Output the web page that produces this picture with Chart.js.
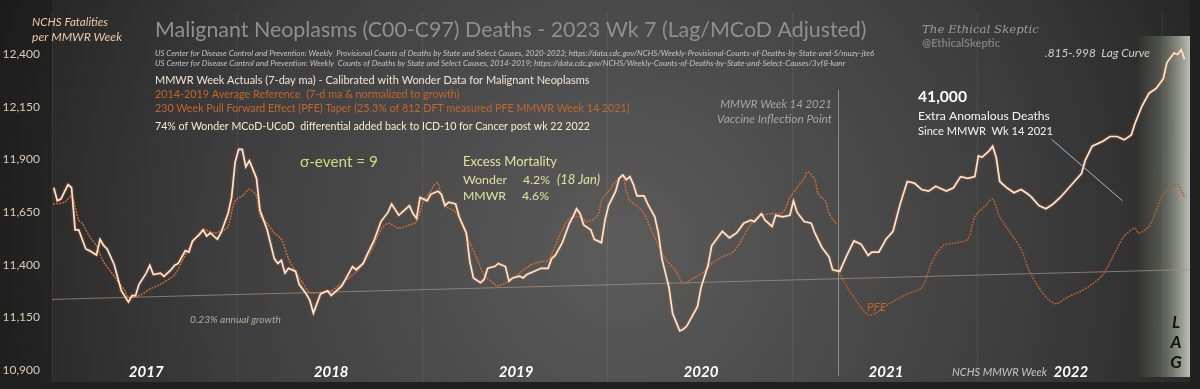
<!DOCTYPE html>
<html lang="en">
<head>
    <meta charset="UTF-8">
    <title>Malignant Neoplasms Deaths - 2023 Wk 7</title>
    <script src="https://cdn.jsdelivr.net/npm/chart.js"></script>
    <style>
        body {
            margin: 0;
            background: #222;
        }
        .box {
            width: 1200px;
            height: 389px;
        }
    </style>
</head>
<body>
    <div class="box">
        <canvas id="cancerChart" width="1200" height="389"></canvas>
    </div>

    <script>
        // week index 0 = MMWR week 1 of 2017
        const yearLabels = ['2017', '2018', '2019', '2020', '2021', '2022'];
        const yearStartWeeks = [0, 52, 104, 156, 208, 260];
        const yTicks = [10900, 11150, 11400, 11650, 11900, 12150, 12400];
        const vaccineWeek = 221;

        // MMWR week actuals (7-day ma)
        const actualWeeks = [0, 1, 2, 4, 5, 6, 7, 9, 10, 12, 13, 14, 15, 17, 18, 19, 21, 22, 23, 24, 26, 27, 28, 30, 31, 33, 34, 35, 37, 38, 39, 41, 42, 43, 44, 46, 47, 49, 50, 51, 52, 53, 54, 55, 57, 58, 59, 60, 62, 63, 64, 65, 66, 68, 69, 71, 72, 73, 74, 75, 77, 78, 80, 81, 82, 84, 85, 87, 88, 90, 92, 94, 95, 97, 99, 100, 101, 102, 103, 105, 106, 108, 109, 110, 111, 113, 114, 116, 117, 118, 120, 121, 122, 124, 125, 127, 128, 129, 131, 132, 133, 135, 137, 139, 140, 141, 143, 145, 146, 147, 148, 149, 151, 152, 154, 155, 156, 158, 159, 160, 161, 162, 163, 164, 166, 167, 169, 170, 171, 173, 174, 176, 177, 178, 179, 181, 182, 184, 185, 188, 190, 192, 193, 194, 196, 197, 199, 200, 202, 203, 205, 207, 208, 209, 211, 213, 214, 216, 218, 219, 221, 223, 225, 227, 229, 230, 232, 234, 236, 238, 240, 242, 244, 246, 248, 250, 251, 253, 255, 257, 259, 260, 261, 263, 264, 265, 266, 268, 270, 272, 274, 275, 277, 279, 281, 283, 285, 287, 289, 290, 292, 295, 297, 299, 301, 303, 304, 306, 308, 310, 312, 313, 315, 316, 317, 318];
        const actualDeaths = [11766, 11704, 11712, 11781, 11766, 11566, 11566, 11475, 11467, 11446, 11521, 11492, 11475, 11400, 11337, 11276, 11222, 11253, 11253, 11308, 11360, 11398, 11353, 11360, 11345, 11376, 11398, 11406, 11467, 11460, 11513, 11544, 11566, 11536, 11551, 11521, 11551, 11643, 11720, 11888, 11949, 11949, 11865, 11895, 11811, 11658, 11612, 11566, 11429, 11406, 11421, 11360, 11383, 11368, 11307, 11261, 11230, 11169, 11215, 11261, 11276, 11253, 11284, 11299, 11330, 11391, 11376, 11406, 11444, 11513, 11605, 11650, 11689, 11635, 11666, 11681, 11643, 11620, 11720, 11704, 11735, 11750, 11735, 11681, 11697, 11689, 11628, 11551, 11414, 11337, 11314, 11330, 11383, 11391, 11406, 11391, 11322, 11337, 11345, 11337, 11353, 11368, 11383, 11383, 11429, 11444, 11505, 11597, 11628, 11666, 11643, 11589, 11566, 11521, 11505, 11612, 11681, 11750, 11811, 11827, 11804, 11819, 11781, 11727, 11727, 11689, 11628, 11551, 11429, 11291, 11169, 11085, 11093, 11108, 11139, 11200, 11291, 11398, 11490, 11559, 11528, 11551, 11574, 11597, 11612, 11605, 11643, 11612, 11582, 11635, 11628, 11635, 11704, 11650, 11605, 11597, 11551, 11482, 11437, 11376, 11368, 11444, 11513, 11498, 11444, 11460, 11460, 11521, 11559, 11689, 11796, 11788, 11758, 11750, 11773, 11758, 11750, 11766, 11819, 11811, 11819, 11918, 11911, 11941, 11964, 11911, 11796, 11766, 11742, 11758, 11735, 11720, 11681, 11666, 11689, 11720, 11758, 11796, 11834, 11895, 11964, 11987, 12010, 12010, 11994, 12017, 12071, 12155, 12216, 12239, 12285, 12362, 12407, 12400, 12423, 12377];

        // 2014-2019 average reference (7-d ma, normalized to growth)
        const refWeeks = [0, 3, 5, 7, 8, 10, 12, 14, 16, 18, 20, 21, 24, 27, 30, 34, 36, 39, 42, 45, 48, 49, 51, 53, 55, 57, 58, 60, 62, 64, 66, 68, 70, 72, 75, 78, 80, 83, 86, 89, 92, 94, 97, 100, 102, 104, 106, 107, 108, 109, 110, 113, 115, 117, 119, 121, 124, 125, 128, 131, 134, 137, 139, 141, 143, 145, 148, 150, 153, 154, 156, 158, 160, 161, 162, 164, 166, 168, 170, 172, 175, 177, 180, 183, 185, 188, 191, 193, 195, 197, 199, 202, 205, 207, 209, 211, 212, 214, 215, 217, 218, 220];
        const refDeaths = [11689, 11697, 11727, 11612, 11597, 11536, 11490, 11414, 11368, 11322, 11276, 11245, 11253, 11284, 11307, 11353, 11414, 11505, 11566, 11551, 11566, 11582, 11704, 11727, 11758, 11727, 11635, 11597, 11551, 11521, 11429, 11368, 11314, 11268, 11268, 11276, 11299, 11337, 11383, 11460, 11566, 11597, 11574, 11589, 11605, 11704, 11750, 11780, 11788, 11727, 11680, 11651, 11582, 11505, 11429, 11353, 11307, 11299, 11322, 11360, 11398, 11414, 11421, 11490, 11566, 11620, 11628, 11605, 11635, 11704, 11750, 11796, 11819, 11750, 11704, 11681, 11643, 11566, 11490, 11429, 11368, 11314, 11337, 11368, 11406, 11437, 11460, 11505, 11566, 11612, 11635, 11643, 11650, 11720, 11766, 11811, 11842, 11804, 11735, 11704, 11643, 11597];

        // 230 week pull forward effect taper
        const pfeWeeks = [221, 225, 229, 231, 235, 240, 244, 247, 250, 254, 257, 259, 262, 264, 266, 269, 272, 274, 277, 280, 282, 285, 289, 292, 295, 298, 301, 304, 305, 308, 310, 312, 316, 318];
        const pfeDeaths = [11354, 11244, 11161, 11169, 11215, 11261, 11291, 11414, 11490, 11505, 11521, 11628, 11681, 11712, 11628, 11551, 11475, 11383, 11291, 11230, 11215, 11245, 11276, 11307, 11353, 11444, 11536, 11574, 11551, 11582, 11658, 11735, 11781, 11720];

        // 0.23% annual growth trend
        const trendWeeks = [-0.5, 319.5];
        const trendDeaths = [11235, 11377];

        function pairs(xs, ys) {
            return xs.map(function (x, i) { return { x: x, y: ys[i] }; });
        }

        // draws text stretched/shrunk to a target width
        function fitText(ctx, text, x, y, width, style, family, color) {
            ctx.font = style + ' 20px ' + family;
            var w = ctx.measureText(text).width;
            var size = 20 * width / w;
            ctx.font = style + ' ' + size.toFixed(2) + 'px ' + family;
            ctx.fillStyle = color;
            ctx.fillText(text, x, y);
        }

        const backdrop = {
            id: 'backdrop',
            beforeDraw: function (chart) {
                var ctx = chart.ctx;
                var w = chart.width, h = chart.height;
                ctx.save();
                var g = ctx.createRadialGradient(620, 250, 20, 620, 250, 700);
                g.addColorStop(0, '#5a5a5a');
                g.addColorStop(0.55, '#3e3e3e');
                g.addColorStop(1, '#1f1f1f');
                ctx.fillStyle = g;
                ctx.fillRect(0, 0, w, h);
                ctx.fillStyle = 'rgba(0,0,0,0.18)';
                ctx.fillRect(0, 0, 52, h);
                ctx.fillStyle = '#202020';
                ctx.fillRect(0, 382, w, h - 382);
                ctx.fillRect(1190, 0, w - 1190, h);

                // faint year gridlines
                var xs = chart.scales.x;
                ctx.strokeStyle = 'rgba(255,255,255,0.07)';
                ctx.lineWidth = 1;
                yearStartWeeks.concat([312]).forEach(function (wk) {
                    var px = Math.round(xs.getPixelForValue(wk - 0.5)) + 0.5;
                    ctx.beginPath();
                    ctx.moveTo(px, 12);
                    ctx.lineTo(px, 382);
                    ctx.stroke();
                });

                // LAG panel
                var lx = xs.getPixelForValue(311.5);
                var pg = ctx.createLinearGradient(lx - 25, 0, chart.chartArea.right, 0);
                pg.addColorStop(0, 'rgba(160,166,150,0)');
                pg.addColorStop(0.45, 'rgba(150,156,142,0.35)');
                pg.addColorStop(1, 'rgba(196,200,186,0.95)');
                ctx.fillStyle = pg;
                ctx.fillRect(lx - 25, 36, chart.chartArea.right - lx + 25, 341);
                ctx.restore();
            }
        };

        const glow = {
            id: 'glow',
            beforeDatasetDraw: function (chart, args) {
                if (args.index === 0) {
                    chart.ctx.save();
                    chart.ctx.shadowColor = 'rgba(215,115,50,0.7)';
                    chart.ctx.shadowBlur = 2.5;
                }
            },
            afterDatasetDraw: function (chart, args) {
                if (args.index === 0) {
                    chart.ctx.restore();
                }
            }
        };

        const notes = {
            id: 'notes',
            afterDatasetsDraw: function (chart) {
                var ctx = chart.ctx;
                var xs = chart.scales.x, ys = chart.scales.y;
                var sans = 'Lato, "Open Sans", sans-serif';
                ctx.save();
                ctx.textBaseline = 'alphabetic';
                ctx.textAlign = 'left';

                // vaccine inflection line
                var vx = Math.round(xs.getPixelForValue(vaccineWeek - 0.5)) + 0.5;
                ctx.strokeStyle = 'rgba(200,200,200,0.55)';
                ctx.lineWidth = 1;
                ctx.beginPath();
                ctx.moveTo(vx, 90);
                ctx.lineTo(vx, 376);
                ctx.stroke();

                // pointer from the 41,000 note
                ctx.strokeStyle = '#a9b9c2';
                ctx.beginPath();
                ctx.moveTo(xs.getPixelForValue(280.6), ys.getPixelForValue(11996));
                ctx.lineTo(xs.getPixelForValue(300.5), ys.getPixelForValue(11704));
                ctx.stroke();

                fitText(ctx, 'NCHS Fatalities', 32, 26, 76, 'italic', sans, '#efcba6');
                fitText(ctx, 'per MMWR Week', 32, 41, 90, 'italic', sans, '#efcba6');
                fitText(ctx, 'Malignant Neoplasms (C00-C97) Deaths - 2023 Wk 7 (Lag/MCoD Adjusted)', 155, 37, 712, '', sans, '#8f8f8f');
                fitText(ctx, 'US Center for Disease Control and Prevention: Weekly  Provisional Counts of Deaths by State and Select Causes, 2020-2023; https://data.cdc.gov/NCHS/Weekly-Provisional-Counts-of-Deaths-by-State-and-S/muzy-jte6', 155, 56, 720, 'italic', sans, '#c4c4c4');
                fitText(ctx, 'US Center for Disease Control and Prevention: Weekly  Counts of Deaths by State and Select Causes, 2014-2019; https://data.cdc.gov/NCHS/Weekly-Counts-of-Deaths-by-State-and-Select-Causes/3yf8-kanr', 155, 66, 691, 'italic', sans, '#c4c4c4');
                fitText(ctx, 'MMWR Week Actuals (7-day ma) - Calibrated with Wonder Data for Malignant Neoplasms', 155, 84, 435, '', sans, '#f3e3d3');
                fitText(ctx, '2014-2019 Average Reference  (7-d ma & normalized to growth)', 155, 98, 305, '', sans, '#c3662e');
                fitText(ctx, '230 Week Pull Forward Effect (PFE) Taper (25.3% of 812 DFT measured PFE MMWR Week 14 2021)', 155, 112, 475, '', sans, '#c3662e');
                fitText(ctx, '74% of Wonder MCoD-UCoD  differential added back to ICD-10 for Cancer post wk 22 2022', 155, 130, 435, '', sans, '#f5efcb');

                ctx.textAlign = 'right';
                fitText(ctx, 'MMWR Week 14 2021', 832, 108, 112, 'italic', sans, '#a6a6a6');
                fitText(ctx, 'Vaccine Inflection Point', 832, 123, 115, 'italic', sans, '#a6a6a6');
                ctx.textAlign = 'left';

                fitText(ctx, 'The Ethical Skeptic', 922, 33, 117, 'italic', '"DejaVu Serif", serif', '#9c9c9c');
                fitText(ctx, '@EthicalSkeptic', 922, 47, 78, 'bold', sans, '#7e7e7e');
                fitText(ctx, '.815-.998  Lag Curve', 1045, 57, 105, 'italic', sans, '#d0d0d0');
                fitText(ctx, '41,000', 918, 102, 49, 'bold', sans, '#ffffff');
                fitText(ctx, 'Extra Anomalous Deaths', 918, 120, 132, '', sans, '#f4f4f4');
                fitText(ctx, 'Since MMWR  Wk 14 2021', 918, 135, 135, '', sans, '#f4f4f4');

                fitText(ctx, '\u03c3-event = 9', 300, 167, 78, '', sans, '#d3db7e');
                fitText(ctx, 'Excess Mortality', 463, 166, 94, '', sans, '#e2e29e');
                fitText(ctx, 'Wonder', 463, 184, 44, '', sans, '#e2e29e');
                fitText(ctx, '4.2%', 523, 184, 27, '', sans, '#e2e29e');
                fitText(ctx, '(18 Jan)', 557, 184, 43, 'italic', sans, '#e2e29e');
                fitText(ctx, 'MMWR', 463, 200, 43, '', sans, '#e2e29e');
                fitText(ctx, '4.6%', 522, 200, 27, '', sans, '#e2e29e');

                fitText(ctx, '0.23% annual growth', 190, 323, 91, 'italic', sans, '#b9a999');
                fitText(ctx, 'PFE', 867, 311, 19, 'italic', sans, '#c3622c');
                fitText(ctx, 'NCHS MMWR Week', 952, 376, 95, 'italic', sans, '#c6c6c6');

                // year labels at mid-year
                ctx.textAlign = 'center';
                ctx.font = 'italic bold 15px ' + sans;
                ctx.fillStyle = '#ffffff';
                yearLabels.forEach(function (yr, i) {
                    ctx.fillText(yr, xs.getPixelForValue(yearStartWeeks[i] + 26), 377);
                });

                ctx.font = 'italic bold 17px ' + sans;
                ctx.fillStyle = '#111111';
                ['L', 'A', 'G'].forEach(function (ch, i) {
                    ctx.fillText(ch, 1176, 328 + i * 20);
                });
                ctx.restore();
            }
        };

        var ctxCancer = document.getElementById('cancerChart').getContext('2d');
        var cancerChart = new Chart(ctxCancer, {
            type: 'line',
            data: {
                datasets: [{
                    label: 'MMWR Week Actuals',
                    data: pairs(actualWeeks, actualDeaths),
                    borderColor: '#fbe4d2',
                    borderWidth: 1.7,
                    pointRadius: 0,
                    tension: 0
                }, {
                    label: '2014-2019 Average Reference',
                    data: pairs(refWeeks, refDeaths),
                    borderColor: '#c86a34',
                    borderWidth: 1.7,
                    borderDash: [0.5, 2.6],
                    borderCapStyle: 'round',
                    pointRadius: 0,
                    tension: 0.3
                }, {
                    label: 'PFE',
                    data: pairs(pfeWeeks, pfeDeaths),
                    borderColor: '#b65e2c',
                    borderWidth: 1.7,
                    borderDash: [0.5, 2.6],
                    borderCapStyle: 'round',
                    pointRadius: 0,
                    tension: 0.3
                }, {
                    label: 'Growth trend',
                    data: pairs(trendWeeks, trendDeaths),
                    borderColor: 'rgba(170,150,130,0.7)',
                    borderWidth: 1,
                    pointRadius: 0
                }]
            },
            options: {
                responsive: false,
                devicePixelRatio: 1,
                animation: false,
                layout: {
                    padding: { top: 44, bottom: 7, right: 10, left: 0 }
                },
                plugins: {
                    legend: { display: false },
                    tooltip: { enabled: false }
                },
                scales: {
                    x: {
                        type: 'linear',
                        min: -0.5,
                        max: 319.5,
                        display: false
                    },
                    y: {
                        min: 10900,
                        max: 12450,
                        afterBuildTicks: function (scale) {
                            scale.ticks = yTicks.map(function (v) { return { value: v }; });
                        },
                        afterFit: function (scale) {
                            scale.width = 52;
                        },
                        grid: { display: false, drawTicks: false },
                        border: { display: false },
                        ticks: {
                            padding: 12,
                            color: '#dcc9b3',
                            font: { family: 'Lato', size: 12 },
                            callback: function (v) { return v.toLocaleString('en-US'); }
                        }
                    }
                }
            },
            plugins: [backdrop, glow, notes]
        });
    </script>
</body>
</html>
